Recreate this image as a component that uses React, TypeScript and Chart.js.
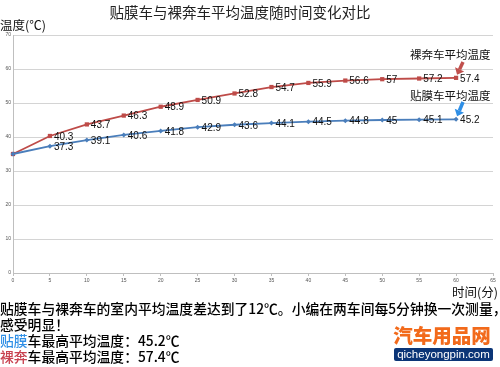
import React, { useEffect, useRef } from "react";
import { Chart, registerables } from "chart.js";

Chart.register(...registerables);

const minutes = [0, 5, 10, 15, 20, 25, 30, 35, 40, 45, 50, 55, 60];
const filmTemps = [35, 37.3, 39.1, 40.6, 41.8, 42.9, 43.6, 44.1, 44.5, 44.8, 45, 45.1, 45.2];
const bareTemps = [35, 40.3, 43.7, 46.3, 48.9, 50.9, 52.8, 54.7, 55.9, 56.6, 57, 57.2, 57.4];
const filmName = "贴膜车平均温度";
const bareName = "裸奔车平均温度";
const titleText = "贴膜车与裸奔车平均温度随时间变化对比";
const yTitle = "温度(℃)";
const xTitle = "时间(分)";

const CJK = '"Noto Sans CJK SC", "Noto Sans", sans-serif';

const overlayPlugin = {
  id: "overlay",
  afterDatasetsDraw(chart: any) {
    const ctx = chart.ctx;
    ctx.save();
    // data labels
    ctx.font = '10px "Liberation Sans", Arial, sans-serif';
    ctx.fillStyle = "#111";
    ctx.textBaseline = "middle";
    ctx.textAlign = "left";
    chart.data.datasets.forEach((ds: any, di: number) => {
      const meta = chart.getDatasetMeta(di);
      meta.data.forEach((pt: any, i: number) => {
        if (i === 0) return;
        ctx.fillText(String(ds.data[i].y), pt.x + 4, pt.y + 1);
      });
    });
    // title & axis titles
    ctx.fillStyle = "#222";
    ctx.textAlign = "center";
    ctx.font = "14.5px " + CJK;
    ctx.fillText(titleText, 240, 12);
    ctx.textAlign = "left";
    ctx.font = "12.5px " + CJK;
    ctx.fillStyle = "#111";
    ctx.fillText(yTitle, 0, 25);
    ctx.textAlign = "right";
    ctx.fillText(xTitle, 498, 292);
    // series annotations
    ctx.textAlign = "left";
    ctx.font = "11.5px " + CJK;
    ctx.fillText(bareName, 410, 55);
    ctx.fillText(filmName, 410, 96);

    const arrow = (x1: number, y1: number, x2: number, y2: number, color: string) => {
      const ang = Math.atan2(y2 - y1, x2 - x1);
      const hl = 6;
      const bx = x2 - hl * Math.cos(ang);
      const by = y2 - hl * Math.sin(ang);
      ctx.strokeStyle = color;
      ctx.fillStyle = color;
      ctx.lineWidth = 3.5;
      ctx.beginPath();
      ctx.moveTo(x1, y1);
      ctx.lineTo(bx, by);
      ctx.stroke();
      ctx.beginPath();
      ctx.moveTo(x2, y2);
      ctx.lineTo(bx + 5 * Math.cos(ang + Math.PI / 2), by + 5 * Math.sin(ang + Math.PI / 2));
      ctx.lineTo(bx + 5 * Math.cos(ang - Math.PI / 2), by + 5 * Math.sin(ang - Math.PI / 2));
      ctx.closePath();
      ctx.fill();
    };
    const xs = chart.scales.x;
    const ys = chart.scales.y;
    const lastX = xs.getPixelForValue(minutes[minutes.length - 1]);
    arrow(463, 62, lastX + 1, ys.getPixelForValue(bareTemps[bareTemps.length - 1]) - 3, "#c0504d");
    arrow(463, 102, lastX + 1, ys.getPixelForValue(filmTemps[filmTemps.length - 1]) - 3, "#2f8fe6");
    ctx.restore();
  },
};

export default function App() {
  const ref = useRef<HTMLCanvasElement | null>(null);
  useEffect(() => {
    if (!ref.current) return;
    const chart = new Chart(ref.current, {
      type: "line",
      data: {
        datasets: [
          {
            label: filmName,
            data: minutes.map((m, i) => ({ x: m, y: filmTemps[i] })),
            borderColor: "#4a7ebb",
            backgroundColor: "#4a7ebb",
            borderWidth: 1.8,
            pointStyle: "rectRot",
            pointRadius: 2.5,
            pointBorderWidth: 0,
            tension: 0,
          },
          {
            label: bareName,
            data: minutes.map((m, i) => ({ x: m, y: bareTemps[i] })),
            borderColor: "#be4b48",
            backgroundColor: "#be4b48",
            borderWidth: 1.8,
            pointStyle: "rect",
            pointRadius: 3,
            pointBorderWidth: 0,
            tension: 0,
          },
        ],
      },
      options: {
        animation: false,
        responsive: false,
        maintainAspectRatio: false,
        clip: false as any,
        layout: { padding: { top: 35, right: 7, left: 0, bottom: 0 } },
        plugins: { legend: { display: false }, tooltip: { enabled: false }, title: { display: false } },
        scales: {
          x: {
            type: "linear",
            min: 0,
            max: 65,
            ticks: { stepSize: 5, font: { size: 5 }, color: "#555", padding: 2, maxRotation: 0 },
            grid: { drawOnChartArea: false, drawTicks: true, tickLength: 3, color: "#bfbfbf" },
            border: { color: "#bfbfbf" },
            afterFit(s: any) {
              s.height = 94;
            },
          },
          y: {
            min: 0,
            max: 70,
            ticks: { stepSize: 10, font: { size: 5 }, color: "#555", padding: 2 },
            grid: { color: "#d4d4d4", drawTicks: false },
            border: { color: "#bfbfbf" },
            afterFit(s: any) {
              s.width = 13;
            },
          },
        },
      },
      plugins: [overlayPlugin],
    });
    return () => chart.destroy();
  }, []);

  const lineStyle: React.CSSProperties = {
    position: "absolute",
    left: 0,
    whiteSpace: "nowrap",
    fontFamily: CJK,
    fontSize: "13.8px",
    fontWeight: 500,
    lineHeight: "16px",
    color: "#000",
  };

  return (
    <div style={{ position: "absolute", left: 0, top: 0, width: 500, height: 367, background: "#fff", overflow: "hidden" }}>
      <canvas ref={ref} width={500} height={367} style={{ position: "absolute", left: 0, top: 0, width: 500, height: 367 }} />
      <div style={{ ...lineStyle, top: 300 }}>贴膜车与裸奔车的室内平均温度差达到了12℃。小编在两车间每5分钟换一次测量，</div>
      <div style={{ ...lineStyle, top: 316 }}>感受明显！</div>
      <div style={{ ...lineStyle, top: 332 }}>
        <span style={{ color: "#2f8fe6" }}>贴膜</span>车最高平均温度：45.2℃
      </div>
      <div style={{ ...lineStyle, top: 348 }}>
        <span style={{ color: "#c8414f" }}>裸奔</span>车最高平均温度：57.4℃
      </div>
      <div
        style={{
          position: "absolute",
          left: 392,
          top: 323,
          width: 100,
          textAlign: "center",
          fontFamily: CJK,
          fontWeight: 900,
          fontSize: "19.5px",
          lineHeight: "24px",
          color: "#f26a1b",
        }}
      >
        汽车用品网
      </div>
      <div
        style={{
          position: "absolute",
          left: 394,
          top: 348,
          width: 99,
          height: 13,
          background: "#0b3577",
          color: "#fff",
          fontFamily: '"Liberation Sans", Arial, sans-serif',
          fontSize: "11.5px",
          lineHeight: "13px",
          textAlign: "center",
          borderRadius: 2,
        }}
      >
        qicheyongpin.com
      </div>
    </div>
  );
}
